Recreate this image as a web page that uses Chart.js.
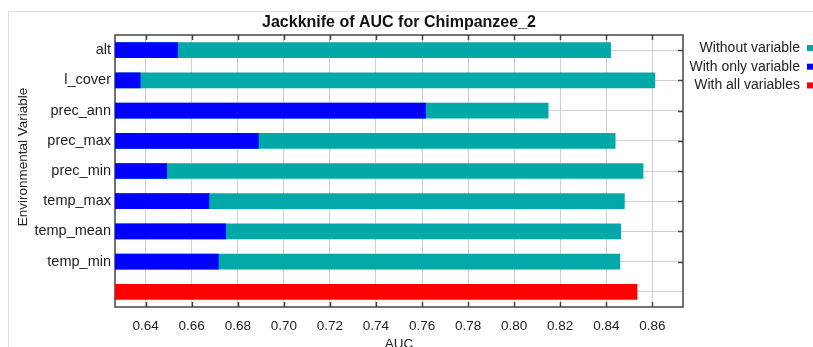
<!DOCTYPE html>
<html>
<head>
<meta charset="utf-8">
<script src="https://cdn.jsdelivr.net/npm/chart.js@4.4.1/dist/chart.umd.min.js"></script>
<style>
    body { margin: 0; background: #fff; }
    #wrap { width: 813px; height: 347px; position: relative; }
</style>
</head>
<body>
<div id="wrap"><canvas id="chart" width="813" height="347"></canvas></div>
<script>
const variables = ['alt', 'l_cover', 'prec_ann', 'prec_max', 'prec_min', 'temp_max', 'temp_mean', 'temp_min', '']
const withoutVariable = [0.842, 0.8612, 0.8149, 0.844, 0.8561, 0.848, 0.8464, 0.846, null]
const withOnlyVariable = [0.654, 0.6378, 0.7617, 0.6891, 0.6493, 0.6676, 0.6749, 0.6717, null]
const withAllVariables = [null, null, null, null, null, null, null, null, 0.8535]
const xTicks = [0.64, 0.66, 0.68, 0.70, 0.72, 0.74, 0.76, 0.78, 0.80, 0.82, 0.84, 0.86]

const TEAL = 'rgb(0,168,168)'
const BLUE = 'rgb(0,0,255)'
const RED = 'rgb(255,0,0)'
const FONT = 'Arial, "Liberation Sans", sans-serif'

// frame, inward ticks, title, legend, y axis title
const decor = {
    id: 'decor',
    beforeDraw: (chart) => {
        const ctx = chart.ctx
        ctx.save()
        ctx.strokeStyle = '#dcdcdc'
        ctx.lineWidth = 1
        ctx.beginPath()
        ctx.moveTo(8.5, 347)
        ctx.lineTo(8.5, 11.5)
        ctx.lineTo(813, 11.5)
        ctx.stroke()
        ctx.restore()
    },
    beforeDatasetsDraw: (chart) => {
        const ctx = chart.ctx
        const a = chart.chartArea
        const x = chart.scales.x
        const y = chart.scales.y
        ctx.save()
        ctx.strokeStyle = '#444'
        ctx.lineWidth = 1.5
        ctx.strokeRect(a.left, a.top, a.right - a.left, a.bottom - a.top)
        ctx.beginPath()
        xTicks.forEach((v) => {
            const px = Math.round(x.getPixelForValue(v)) + 0.5
            ctx.moveTo(px, a.top); ctx.lineTo(px, a.top + 5)
            ctx.moveTo(px, a.bottom); ctx.lineTo(px, a.bottom - 5)
        })
        variables.forEach((v, i) => {
            if (i === variables.length - 1) return
            const py = Math.round(y.getPixelForValue(i)) + 0.5
            ctx.moveTo(a.right, py); ctx.lineTo(a.right - 5, py)
        })
        ctx.stroke()
        ctx.restore()
    },
    afterDraw: (chart) => {
        const ctx = chart.ctx
        const a = chart.chartArea
        ctx.save()
        ctx.fillStyle = '#111'
        ctx.font = 'bold 16px ' + FONT
        ctx.textAlign = 'center'
        ctx.textBaseline = 'middle'
        ctx.fillText('Jackknife of AUC for Chimpanzee_2', (a.left + a.right) / 2, 23)

        // legend
        ctx.font = '14px ' + FONT
        ctx.textAlign = 'right'
        chart.data.datasets.forEach((ds, i) => {
            const ly = 48 + i * 18.7
            ctx.fillStyle = '#222'
            ctx.fillText(ds.label, 800, ly)
            ctx.fillStyle = ds.backgroundColor
            ctx.fillRect(807, ly - 3, 6, 6)
        })

        // y axis title
        ctx.translate(23, 157)
        ctx.rotate(-Math.PI / 2)
        ctx.textAlign = 'center'
        ctx.fillStyle = '#222'
        ctx.font = '13.5px ' + FONT
        ctx.fillText('Environmental Variable', 0, 0)
        ctx.restore()
    }
}

new Chart(document.getElementById('chart'), {
    type: 'bar',
    data: {
        labels: variables,
        datasets: [
            { label: 'Without variable', data: withoutVariable, backgroundColor: TEAL, order: 3 },
            { label: 'With only variable', data: withOnlyVariable, backgroundColor: BLUE, order: 2 },
            { label: 'With all variables', data: withAllVariables, backgroundColor: RED, order: 1 }
        ]
    },
    options: {
        indexAxis: 'y',
        responsive: false,
        animation: false,
        layout: { padding: { top: 35, right: 130, left: 0, bottom: 0 } },
        datasets: {
            bar: { grouped: false, categoryPercentage: 1, barPercentage: 0.52 }
        },
        plugins: {
            legend: { display: false },
            tooltip: { enabled: false }
        },
        scales: {
            x: {
                type: 'linear',
                min: 0.6267,
                max: 0.8733,
                afterBuildTicks: (scale) => { scale.ticks = xTicks.map(v => ({ value: v })) },
                afterFit: (scale) => { scale.height = 40 },
                border: { display: false },
                grid: { color: '#cfcfcf', drawTicks: false },
                ticks: {
                    padding: 11,
                    color: '#222',
                    font: { size: 13.5, family: FONT },
                    callback: (v) => Number(v).toFixed(2)
                },
                title: {
                    display: true,
                    text: 'AUC',
                    color: '#222',
                    font: { size: 13.5, family: FONT },
                    padding: { top: 0, bottom: -5 }
                }
            },
            y: {
                afterFit: (scale) => { scale.width = 115 },
                border: { display: false },
                grid: { color: '#cfcfcf', drawTicks: false, offset: false },
                ticks: {
                    padding: 4,
                    color: '#222',
                    font: { size: 14.5, family: FONT }
                }
            }
        }
    },
    plugins: [decor]
})
</script>
</body>
</html>
